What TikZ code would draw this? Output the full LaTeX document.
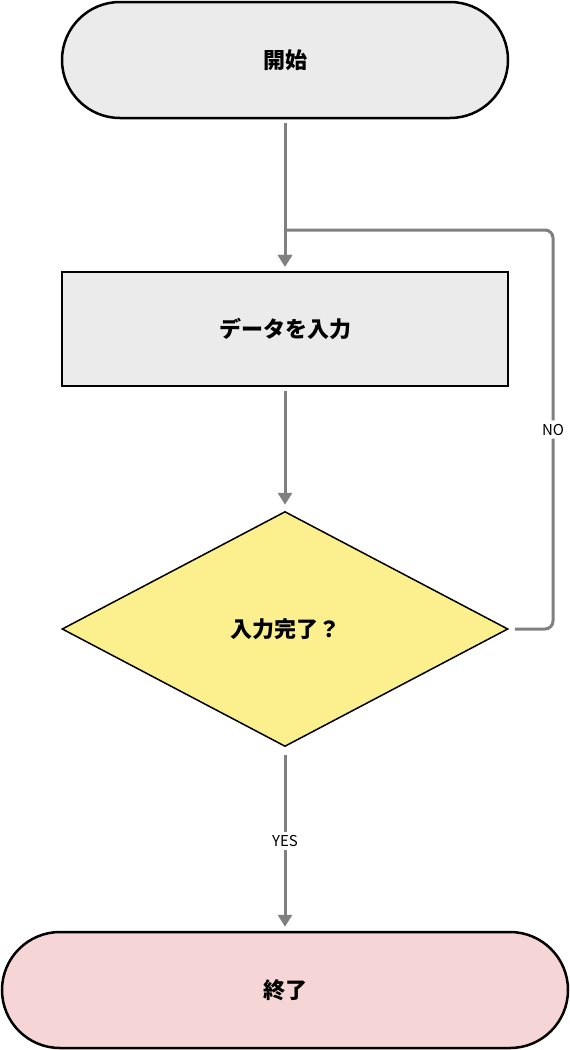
\documentclass[tikz,border=0pt]{standalone}
\usepackage{fontspec}
\setmainfont{Noto Sans CJK JP}
\usetikzlibrary{arrows.meta, positioning, shapes.geometric}
\definecolor{fcgray}{RGB}{235,235,235}
\definecolor{fcyellow}{RGB}{252,239,142}
\definecolor{fcpink}{RGB}{245,213,213}
\definecolor{fcline}{RGB}{128,128,128}
\begin{document}
\begin{tikzpicture}[x=1pt, y=1pt,
    term/.style={rounded corners=58pt, draw=black, line width=2.5pt,
                 minimum height=116pt, font=\fontsize{22}{26}\selectfont\bfseries},
    proc/.style={draw=black, line width=2.5pt, fill=fcgray, minimum width=446pt,
                 minimum height=114pt, font=\fontsize{22}{26}\selectfont\bfseries},
    flow/.style={fcline, line width=3pt, -{Triangle[length=12pt, width=14pt]}},
    lbl/.style={fill=white, text=black, font=\fontsize{15}{18}\selectfont}]
  \useasboundingbox (0,0) rectangle (570,-1050);

  % Terminals
  \node[term, fill=fcgray, minimum width=446pt] (start) at (285,-60) {開始};
  \node[term, fill=fcpink, minimum width=566pt] (stop) at (285,-990) {終了};

  % Process and decision
  \node[proc] (input) at (285,-329) {データを入力};
  \node[diamond, draw=black, line width=1.5pt, fill=fcyellow, inner sep=0pt,
        minimum width=446pt, minimum height=235pt,
        font=\fontsize{22}{26}\selectfont\bfseries] (done) at (285,-629) {入力完了？};

  % Connectors
  \coordinate (loopin) at (285,-230);
  \draw[flow] ([yshift=-4pt]start.south) -- ([yshift=4pt]input.north);
  \draw[flow] ([yshift=-4pt]input.south) -- ([yshift=6pt]done.north);
  \draw[flow] ([yshift=-8pt]done.south) -- node[lbl] {YES} ([yshift=4pt]stop.north);
  \draw[fcline, line width=3pt, rounded corners=8pt]
    ([xshift=6pt]done.east) -- (553,-629) -- node[lbl, pos=0.5] {NO} (553,-230) -- (loopin);
  \draw[flow] (loopin) -- ([yshift=4pt]input.north);
\end{tikzpicture}
\end{document}
